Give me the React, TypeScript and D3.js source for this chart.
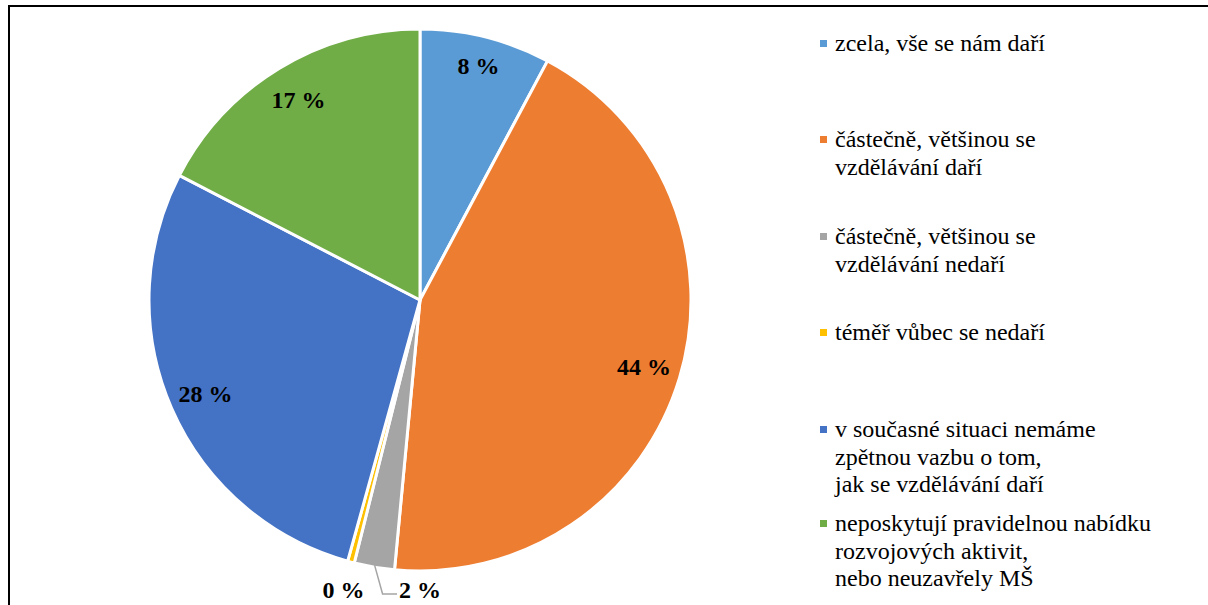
import React, { useEffect, useRef } from "react"
import * as d3 from "d3"

const categories = [
  ["zcela, vše se nám daří"],
  ["částečně, většinou se", "vzdělávání daří"],
  ["částečně, většinou se", "vzdělávání nedaří"],
  ["téměř vůbec se nedaří"],
  ["v současné situaci nemáme", "zpětnou vazbu o tom,", "jak se vzdělávání daří"],
  ["neposkytují pravidelnou nabídku", "rozvojových aktivit,", "nebo neuzavřely MŠ"]
]
const values = [7.8, 43.7, 2.4, 0.4, 28.3, 17.4]
const labels = ["8 %", "44 %", "2 %", "0 %", "28 %", "17 %"]
const colors = ["#5B9BD5", "#ED7D31", "#A5A5A5", "#FFC000", "#4472C4", "#70AD47"]
const legendTops = [44, 140, 237, 333, 430, 524]

const SERIF = "Liberation Serif, Times New Roman, serif"

export default function App() {
  const ref = useRef<SVGSVGElement>(null)

  useEffect(() => {
    const w = 1208
    const h = 605
    const cx = 420
    const cy = 300
    const r = 271

    const svg = d3.select(ref.current)
    svg.selectAll("*").remove()
    svg.attr("width", w).attr("height", h).style("font-family", SERIF)

    // frame (top + left only visible)
    svg.append("line").attr("x1", 9).attr("x2", 1208).attr("y1", 6).attr("y2", 6)
      .attr("stroke", "#000").attr("stroke-width", 2)
    svg.append("line").attr("x1", 9).attr("x2", 9).attr("y1", 5).attr("y2", 605)
      .attr("stroke", "#000").attr("stroke-width", 2)

    const pie = d3.pie<number>().sort(null).value(d => d)
    const arcs = pie(values)
    const arc = d3.arc<d3.PieArcDatum<number>>().innerRadius(0).outerRadius(r)

    const g = svg.append("g").attr("transform", `translate(${cx},${cy})`)

    g.selectAll("path")
      .data(arcs)
      .enter()
      .append("path")
      .attr("d", arc)
      .attr("fill", (d, i) => colors[i])
      .attr("stroke", "#fff")
      .attr("stroke-width", 3)
      .attr("stroke-linejoin", "round")

    const labelPos = (d: d3.PieArcDatum<number>, i: number) => {
      const a = (d.startAngle + d.endAngle) / 2
      if (i === 2) {
        // pushed aside, with leader line
        return [0, r + 19]
      }
      const lr = i === 3 ? 300 : i === 0 ? 241 : 234
      return [Math.sin(a) * lr, -Math.cos(a) * lr]
    }

    // leader line for the small gray slice
    const gray = arcs[2]
    const ga = (gray.startAngle + gray.endAngle) / 2
    const sx = Math.sin(ga) * (r - 2)
    const sy = -Math.cos(ga) * (r - 2)
    const lp = labelPos(gray, 2)
    svg.append("path")
      .attr("transform", `translate(${cx},${cy})`)
      .attr("d", d3.line()([[sx, sy], [sx + 8, lp[1] + 4], [lp[0] - 23, lp[1] + 4]]))
      .attr("fill", "none")
      .attr("stroke", "#A5A5A5")
      .attr("stroke-width", 1.5)

    g.selectAll("text.lbl")
      .data(arcs)
      .enter()
      .append("text")
      .attr("class", "lbl")
      .attr("x", (d, i) => labelPos(d, i)[0])
      .attr("y", (d, i) => labelPos(d, i)[1] + 8)
      .attr("text-anchor", "middle")
      .attr("font-family", SERIF)
      .attr("font-weight", "bold")
      .attr("font-size", 24)
      .attr("fill", "#000")
      .text((d, i) => labels[i])

    // legend
    const lg = svg.append("g")
    categories.forEach((lines, i) => {
      lg.append("rect")
        .attr("x", 820)
        .attr("y", legendTops[i] - 4)
        .attr("width", 7)
        .attr("height", 7)
        .attr("fill", colors[i])
      const t = lg.append("text")
        .attr("font-family", SERIF)
        .attr("font-size", 24)
        .attr("fill", "#000")
      lines.forEach((s, j) => {
        t.append("tspan")
          .attr("x", 835)
          .attr("y", legendTops[i] + 7 + j * 27.5)
          .text(s)
      })
    })
  }, [])

  return <svg ref={ref} style={{ position: "absolute", left: 0, top: 0 }}></svg>
}
